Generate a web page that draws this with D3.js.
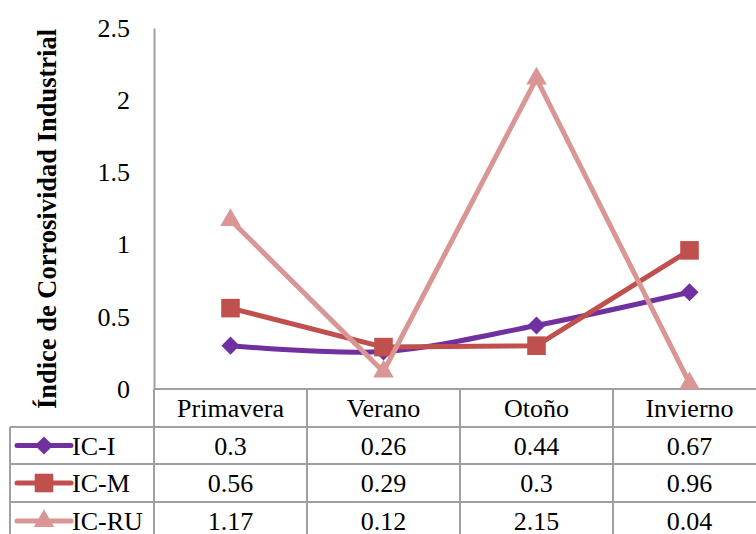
<!DOCTYPE html>
<html><head><meta charset="utf-8">
<script src="https://cdn.jsdelivr.net/npm/d3@7"></script>
<style>body{margin:0;background:#fff}svg{display:block}</style>
</head><body>
<svg id="c" width="756" height="534"></svg>
<script>
const categories = ["Primavera","Verano","Otoño","Invierno"];
const seriesNames = ["IC-I","IC-M","IC-RU"];
const icI  = [0.3, 0.26, 0.44, 0.67];
const icM  = [0.56, 0.29, 0.3, 0.96];
const icRU = [1.17, 0.12, 2.15, 0.04];
const yTicks = [0, 0.5, 1, 1.5, 2, 2.5];
const yTitle = "Índice de Corrosividad Industrial";

(function () {
const FONT = "'Liberation Serif', 'Times New Roman', 'DejaVu Serif', serif";
const FS = 26;
const colors = ["#7030A0", "#C0504D", "#D99694"];
const symbols = [d3.symbolDiamond2, d3.symbolSquare2, d3.symbolTriangle2];
const symSizes = [210, 440, 300];
const curves = [d3.curveCatmullRom.alpha(0.5), d3.curveLinear, d3.curveLinear];
const series = [icI, icM, icRU];

const svg = d3.select("#c").attr("font-family", FONT);
const plotLeft = 154, colW = 153, plotTop = 28, zeroY = 389;
const x = d3.scaleBand().domain(categories).range([plotLeft, plotLeft + colW*categories.length]);
const y = d3.scaleLinear().domain([0, 2.5]).range([zeroY, plotTop]);
const grid = "#a0a0a0";

// y axis
const yAxis = d3.axisLeft(y).tickValues(yTicks).tickSize(0).tickPadding(24).tickFormat(d => String(d));
const ga = svg.append("g").attr("transform", `translate(${plotLeft},0)`).call(yAxis)
  .attr("font-family", FONT).attr("font-size", FS);
ga.select(".domain").attr("stroke", grid).attr("stroke-width", 2);
ga.selectAll(".tick text").attr("fill", "#000");

// title
svg.append("text").attr("transform", `translate(47,219) rotate(-90)`)
  .attr("text-anchor", "middle").attr("dy", "0.35em").attr("font-size", 26.5).attr("font-weight", "bold").text(yTitle);

// table grid
const rowY = [389, 427, 464, 502, 540];
const xr = plotLeft + colW*categories.length;
const gl = svg.append("g").attr("stroke", grid).attr("stroke-width", 2);
gl.append("line").attr("x1", plotLeft).attr("x2", xr).attr("y1", rowY[0]).attr("y2", rowY[0]);
rowY.slice(1).forEach(r => gl.append("line").attr("x1", 10).attr("x2", xr).attr("y1", r).attr("y2", r));
gl.append("line").attr("x1", 10).attr("x2", 10).attr("y1", rowY[1]).attr("y2", 540);
categories.forEach((c, i) => gl.append("line").attr("x1", x(c)).attr("x2", x(c)).attr("y1", rowY[0]).attr("y2", 540));
gl.append("line").attr("x1", xr).attr("x2", xr).attr("y1", rowY[0]).attr("y2", 540);

// header
categories.forEach(c => svg.append("text").attr("x", x(c) + x.bandwidth()/2).attr("y", (rowY[0]+rowY[1])/2)
  .attr("dy", "0.35em").attr("text-anchor", "middle").attr("font-size", FS).text(c));

// rows
series.forEach((s, i) => {
  const cy = (rowY[i+1] + rowY[i+2]) / 2;
  svg.append("line").attr("x1", 17).attr("x2", 71).attr("y1", cy).attr("y2", cy)
    .attr("stroke", colors[i]).attr("stroke-width", 5).attr("stroke-linecap", "round");
  svg.append("path").attr("d", d3.symbol().type(symbols[i]).size(symSizes[i])())
    .attr("transform", `translate(44,${cy})`).attr("fill", colors[i]);
  svg.append("text").attr("x", 72).attr("y", cy).attr("dy", "0.35em").attr("font-size", FS).text(seriesNames[i]);
  s.forEach((v, j) => svg.append("text").attr("x", x(categories[j]) + x.bandwidth()/2).attr("y", cy)
    .attr("dy", "0.35em").attr("text-anchor", "middle").attr("font-size", FS).text(String(v)));
});

// lines
const cx = c => x(c) + x.bandwidth()/2;
series.forEach((s, i) => {
  const line = d3.line().x((d, j) => cx(categories[j])).y(d => y(d)).curve(curves[i]);
  svg.append("path").datum(s).attr("d", line).attr("fill", "none")
    .attr("stroke", colors[i]).attr("stroke-width", 5).attr("stroke-linejoin", "round");
  s.forEach((v, j) => svg.append("path").attr("d", d3.symbol().type(symbols[i]).size(symSizes[i])())
    .attr("transform", `translate(${cx(categories[j])},${y(v)})`).attr("fill", colors[i]));
});
})();
</script>
</body></html>
